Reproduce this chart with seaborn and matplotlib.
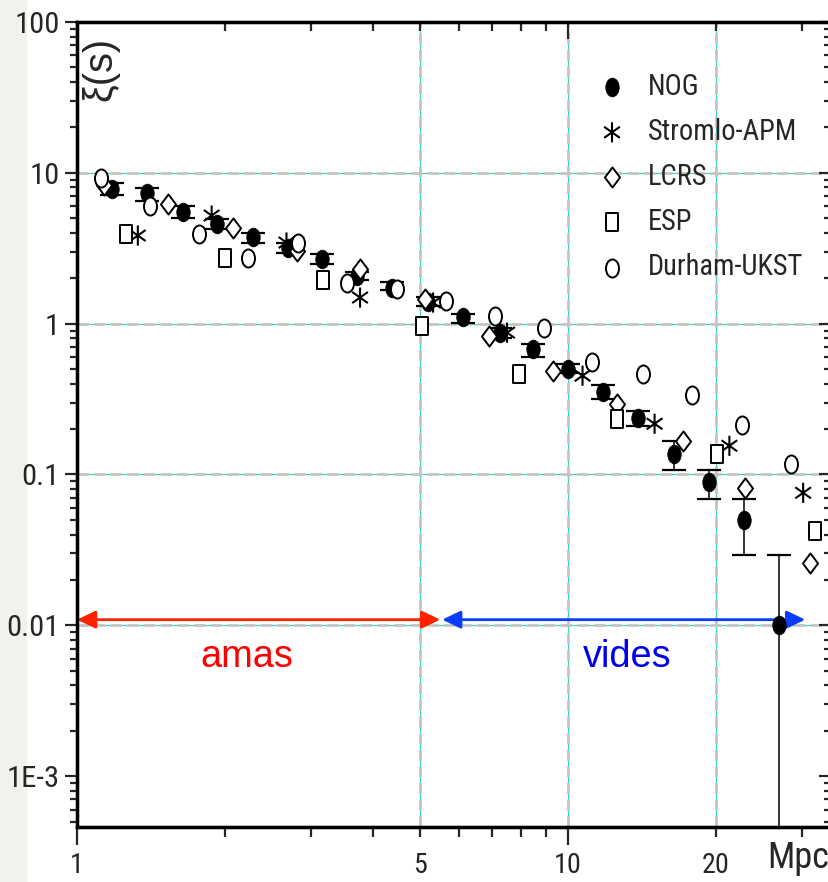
import numpy as np
import matplotlib
matplotlib.use("Agg")
import matplotlib.pyplot as plt
from matplotlib import font_manager as fm
from matplotlib.font_manager import FontProperties
from matplotlib.textpath import TextPath
from matplotlib.path import Path
from matplotlib.patches import Rectangle
from matplotlib.ticker import FixedLocator, FuncFormatter, NullFormatter
import seaborn as sns

# Redshift-space two-point correlation function xi(s) for five galaxy surveys
nog_s = [1.18, 1.39, 1.64, 1.93, 2.28, 2.69, 3.16, 3.72, 4.38, 5.19,
         6.11, 7.27, 8.49, 10.0, 11.8, 13.9, 16.4, 19.4, 22.8, 26.9]
nog_xi = [7.87, 7.40, 5.54, 4.61, 3.78, 3.19, 2.70, 2.08, 1.73, 1.40,
          1.10, 0.872, 0.683, 0.503, 0.354, 0.238, 0.137, 0.0894, 0.050, 0.010]
nog_lo = [7.18, 6.55, 5.05, 4.21, 3.45, 2.96, 2.50, 1.96, 1.66, 1.30,
          1.015, 0.807, 0.604, 0.473, 0.318, 0.210, 0.107, 0.069, 0.0293, 1e-4]
nog_hi = [8.62, 7.99, 6.07, 4.97, 4.02, 3.45, 2.91, 2.21, 1.90, 1.51,
          1.165, 0.941, 0.737, 0.543, 0.394, 0.265, 0.167, 0.107, 0.069, 0.0293]

apm_s = [1.33, 1.88, 2.67, 3.77, 5.31, 7.51, 10.7, 15.0, 21.3, 30.1]
apm_xi = [3.84, 5.21, 3.45, 1.49, 1.38, 0.872, 0.452, 0.217, 0.155, 0.0756]

lcrs_s = [1.135, 1.53, 2.08, 2.81, 3.77, 5.11, 6.90, 9.32, 12.6, 17.1, 22.9, 31.1]
lcrs_xi = [8.36, 6.26, 4.34, 3.05, 2.32, 1.465, 0.833, 0.488, 0.294, 0.167, 0.0816, 0.0259]

esp_s = [1.26, 2.00, 3.17, 5.04, 7.95, 12.6, 20.1, 31.8]
esp_xi = [3.96, 2.74, 1.96, 0.97, 0.466, 0.234, 0.137, 0.0423]

duk_s = [1.12, 1.41, 1.77, 2.23, 2.82, 3.55, 4.48, 5.64, 7.10, 8.94,
         11.2, 14.2, 17.9, 22.6, 28.5]
duk_xi = [9.31, 6.07, 3.96, 2.74, 3.40, 1.87, 1.71, 1.42, 1.13, 0.941,
          0.560, 0.466, 0.338, 0.214, 0.118]

series_names = ["NOG", "Stromlo-APM", "LCRS", "ESP", "Durham-UKST"]

# axis ticks and labels
x_major = [1, 10]
x_minor = [2, 3, 4, 5, 6, 7, 8, 9, 20, 30]
x_labels = {1: "1", 5: "5", 10: "10", 20: "20"}
y_major = [1e-3, 1e-2, 1e-1, 1, 10, 100]
y_labels = ["1E-3", "0.01", "0.1", "1", "10", "100"]
y_minor = [m * 10.0 ** k for k in range(-4, 2) for m in range(2, 10)]
grid_x = [5, 10, 20]
grid_y = [0.01, 0.1, 1, 10]

# scale ranges ("amas" = clusters, "vides" = voids)
amas_span = (1.0, 5.49)
vides_span = (5.54, 30.4)
span_level = 0.0109
amas_label_pos = (2.22, 0.0053)
vides_label_pos = (13.2, 0.0053)

sns.set_style("white")
plt.rcParams["font.family"] = ["Liberation Sans", "DejaVu Sans"]

W, H, DPI = 829, 882, 100


def condensed_props():
    """Regular-weight narrow sans face if one is installed, else Liberation Sans."""
    ranked = []
    for f in fm.fontManager.ttflist:
        if f.style != "normal" or str(f.weight) not in ("400", "normal", "regular", "book"):
            continue
        narrow = ("Narrow" in f.name or "Condensed" in f.name
                  or f.stretch in ("condensed", "semi-condensed", "extra-condensed"))
        if not narrow or "Mono" in f.name or "Serif" in f.name:
            continue
        rank = 0 if "Liberation" in f.name else 1 if "Roboto" in f.name else \
            2 if "Open" in f.name else 3
        ranked.append((rank, f.fname))
    if ranked:
        ranked.sort()
        return FontProperties(fname=ranked[0][1])
    return FontProperties(family="Liberation Sans")


def fit_size(text, target_px, prop):
    """Font size (pt) whose ink width is target_px pixels."""
    w100 = TextPath((0, 0), text, size=100, prop=prop).get_extents().width
    return target_px * 72.0 / w100


fp_narrow = condensed_props()
fp_regular = FontProperties(family="Liberation Sans")

tick_pt = fit_size("0.01", 46, fp_narrow)
xtick_pt = fit_size("10", 24, fp_narrow)
leg_pt = fit_size("Durham-UKST", 153, fp_narrow)
mpc_pt = fit_size("Mpc", 58, fp_narrow)
amas_pt = fit_size("amas", 90, fp_regular)
xi_pt = fit_size("ξ(s)", 60, fp_regular)

fig = plt.figure(figsize=(W / DPI, H / DPI), dpi=DPI, facecolor="white")
fig.patches.append(Rectangle((0, 0), 26 / W, 1, transform=fig.transFigure,
                             color="#f1f1ee", zorder=-10))
AX_L, AX_R, AX_T, AX_B = 77, 831, 22, 827
ax = fig.add_axes([AX_L / W, (H - AX_B) / H, (AX_R - AX_L) / W, (AX_B - AX_T) / H])
ax.set_facecolor("white")
ax.set_xscale("log")
ax.set_yscale("log")
xlim = (1, 34.3)
ylim = (4.6e-4, 100)

# marker shapes, taller than wide
circ = Path.unit_circle()
ellipse = Path(circ.vertices * [0.72, 1.0], circ.codes)
square = Path([(-0.65, -1), (0.65, -1), (0.65, 1), (-0.65, 1), (-0.65, -1)],
              [Path.MOVETO, Path.LINETO, Path.LINETO, Path.LINETO, Path.CLOSEPOLY])
diamond = Path([(0, 1), (0.75, 0), (0, -1), (-0.75, 0), (0, 1)],
               [Path.MOVETO, Path.LINETO, Path.LINETO, Path.LINETO, Path.CLOSEPOLY])
asterisk = Path([(0, -1), (0, 1), (-0.78, -0.55), (0.78, 0.55), (-0.78, 0.55), (0.78, -0.55)],
                [Path.MOVETO, Path.LINETO] * 3)

# grid: thin cyan line under grey dashes
for gx in grid_x:
    ax.axvline(gx, color="#2fd8c6", lw=0.8, zorder=1)
    ax.axvline(gx, color="#c4c4c4", lw=2.0, dashes=(4, 2), zorder=1.1)
for gy in grid_y:
    ax.axhline(gy, color="#2fd8c6", lw=0.8, zorder=1)
    ax.axhline(gy, color="#c4c4c4", lw=2.0, dashes=(4, 2), zorder=1.1)

# range arrows
arrow_style = "<|-|>,head_length=0.75,head_width=0.36"
ax.annotate("", xy=(amas_span[0], span_level), xytext=(amas_span[1], span_level),
            arrowprops=dict(arrowstyle=arrow_style, mutation_scale=15, color="#ff2200",
                            lw=2.0, shrinkA=0, shrinkB=0), zorder=2)
ax.annotate("", xy=(vides_span[0], span_level), xytext=(vides_span[1], span_level),
            arrowprops=dict(arrowstyle=arrow_style, mutation_scale=15, color="#0a3cff",
                            lw=2.0, shrinkA=0, shrinkB=0), zorder=2)
ax.text(*amas_label_pos, "amas", color="#ff0000", fontsize=amas_pt, family="Liberation Sans",
        ha="center", va="baseline")
ax.text(*vides_label_pos, "vides", color="#0000ee", fontsize=amas_pt, family="Liberation Sans",
        ha="center", va="baseline")

# NOG error bars and points
nog_s_a, nog_xi_a = np.array(nog_s), np.array(nog_xi)
yerr = [nog_xi_a - np.array(nog_lo), np.array(nog_hi) - nog_xi_a]
ax.errorbar(nog_s_a, nog_xi_a, yerr=yerr, fmt="none", ecolor="black",
            elinewidth=1.1, capsize=8.5, capthick=1.6, zorder=3)
sns.scatterplot(x=nog_s, y=nog_xi, marker=ellipse, s=13.5 ** 2, color="black",
                edgecolor="black", linewidth=0.5, ax=ax, zorder=4, label=series_names[0])

open_kw = dict(facecolor="white", edgecolor="black", linewidth=1.4, zorder=5, ax=ax)
sns.scatterplot(x=apm_s, y=apm_xi, marker=asterisk, s=14.5 ** 2, facecolor="none",
                edgecolor="black", linewidth=1.5, zorder=5, ax=ax, label=series_names[1])
sns.scatterplot(x=lcrs_s, y=lcrs_xi, marker=diamond, s=14.5 ** 2, label=series_names[2], **open_kw)
sns.scatterplot(x=esp_s, y=esp_xi, marker=square, s=13 ** 2, label=series_names[3], **open_kw)
sns.scatterplot(x=duk_s, y=duk_xi, marker=ellipse, s=13 ** 2, label=series_names[4], **open_kw)

ax.set_xlim(*xlim)
ax.set_ylim(*ylim)

# bottom / left ticks (outward, labelled)
ax.xaxis.set_major_locator(FixedLocator(x_major))
ax.xaxis.set_minor_locator(FixedLocator(x_minor))
fmt_x = FuncFormatter(lambda v, p: x_labels.get(int(round(v)), "") if abs(v - round(v)) < 1e-6 else "")
ax.xaxis.set_major_formatter(fmt_x)
ax.xaxis.set_minor_formatter(fmt_x)
ax.yaxis.set_major_locator(FixedLocator(y_major))
ax.yaxis.set_minor_locator(FixedLocator(y_minor))
ax.yaxis.set_major_formatter(FuncFormatter(lambda v, p: y_labels[p] if p is not None and p < len(y_labels) else ""))
ax.yaxis.set_minor_formatter(NullFormatter())
ax.tick_params(axis="x", which="major", direction="out", length=13, width=1.6,
               pad=5, labelsize=xtick_pt, top=False, bottom=True)
ax.tick_params(axis="x", which="minor", direction="out", length=7.2, width=1.6,
               pad=10.8, labelsize=xtick_pt, top=False, bottom=True)
ax.tick_params(axis="y", which="major", direction="out", length=8.6, width=1.6,
               pad=4, labelsize=tick_pt, right=False, left=True)
ax.tick_params(axis="y", which="minor", direction="out", length=5, width=1.6,
               right=False, left=True)

# top / right ticks (inward, unlabelled)
axt = ax.twiny()
axt.set_xscale("log")
axt.set_xlim(*xlim)
axt.xaxis.set_major_locator(FixedLocator(x_major))
axt.xaxis.set_minor_locator(FixedLocator(x_minor))
axt.xaxis.set_major_formatter(NullFormatter())
axt.xaxis.set_minor_formatter(NullFormatter())
axt.tick_params(axis="x", which="major", direction="in", length=12, width=1.6)
axt.tick_params(axis="x", which="minor", direction="in", length=6.5, width=1.6)
axr = ax.twinx()
axr.set_yscale("log")
axr.set_ylim(*ylim)
axr.yaxis.set_major_locator(FixedLocator(y_major))
axr.yaxis.set_minor_locator(FixedLocator(y_minor))
axr.yaxis.set_major_formatter(NullFormatter())
axr.yaxis.set_minor_formatter(NullFormatter())
axr.tick_params(axis="y", which="major", direction="in", length=9, width=1.6)
axr.tick_params(axis="y", which="minor", direction="in", length=5, width=1.6)
for a in (ax, axt, axr):
    for sp in a.spines.values():
        sp.set_linewidth(2.3)
        sp.set_color("black")
        sp.set_visible(True)

ax.set_xlabel("")
ax.set_ylabel("")
ax.text(0.0305, 0.9416, "ξ(s)", transform=ax.transAxes, rotation=90,
        ha="center", va="center", fontsize=xi_pt, family="Liberation Sans")
fp_mpc = fp_narrow.copy()
fp_mpc.set_size(mpc_pt)
fig.text(798 / W, 1 - 858 / H, "Mpc", fontproperties=fp_mpc, ha="center", va="center")

# legend rows: 44 px apart, first row centred at y=87 px, markers at x=612 px
fs_px = leg_pt * DPI / 72.0
fp_leg = fp_narrow.copy()
fp_leg.set_size(leg_pt)
row_px, first_row_px, mark_px, text_px = 44, 87, 612, 648
handles, labels = ax.get_legend_handles_labels()
leg = ax.legend(handles, labels, loc="upper left",
                bbox_to_anchor=((mark_px - 0.5 * fs_px - AX_L) / (AX_R - AX_L),
                                (AX_B - (first_row_px - 0.5 * fs_px)) / (AX_B - AX_T)),
                frameon=False, prop=fp_leg, borderpad=0, borderaxespad=0,
                handlelength=1.0, handletextpad=(text_px - mark_px - 0.5 * fs_px) / fs_px,
                labelspacing=(row_px + 1.6) / fs_px - 1.0, scatterpoints=1)

for lbl in ax.xaxis.get_ticklabels(which="both"):
    p = fp_narrow.copy(); p.set_size(xtick_pt); lbl.set_fontproperties(p)
for lbl in ax.yaxis.get_ticklabels(which="both"):
    p = fp_narrow.copy(); p.set_size(tick_pt); lbl.set_fontproperties(p)

fig.savefig("out.png", dpi=DPI, facecolor=fig.get_facecolor())
